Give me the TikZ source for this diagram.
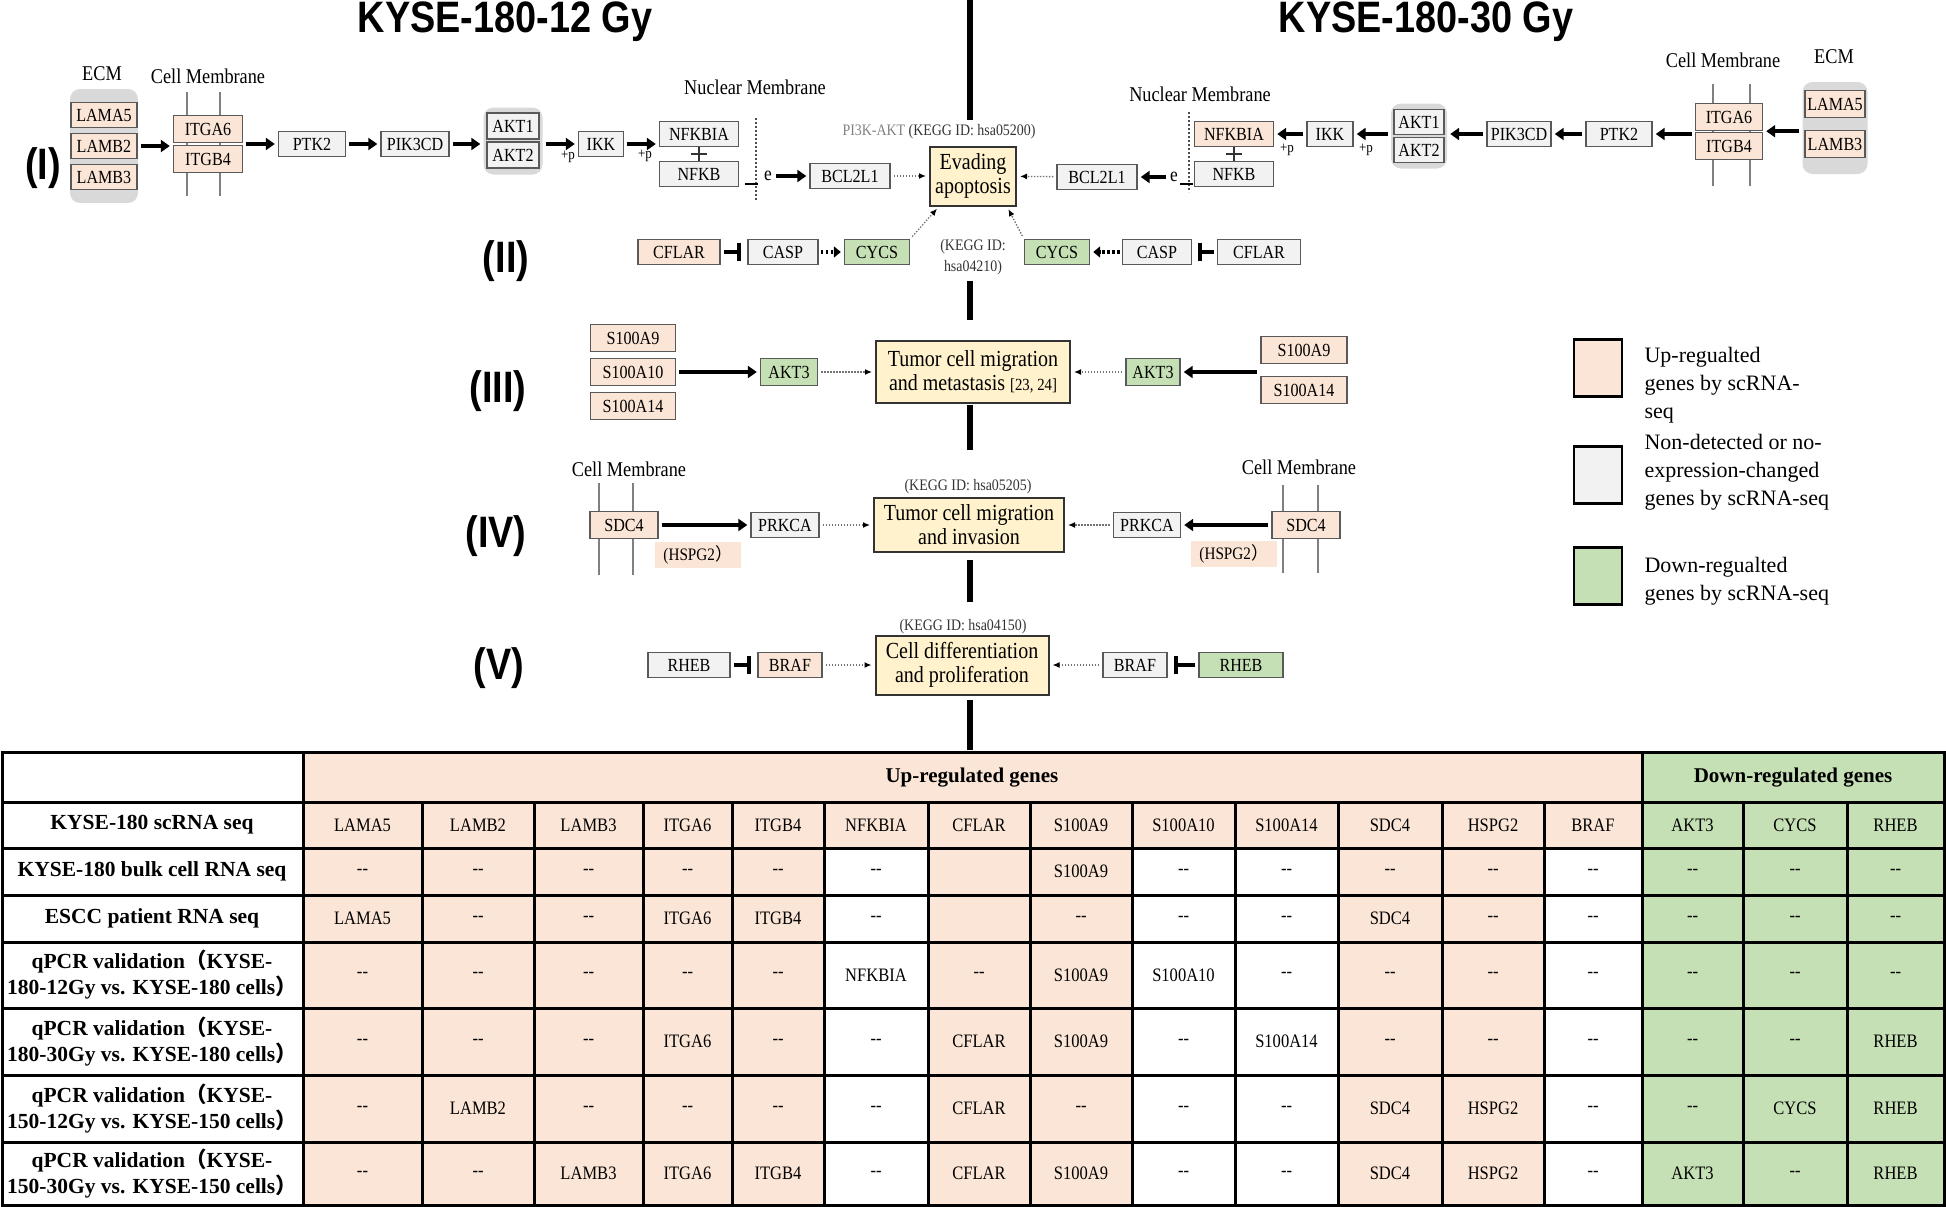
\documentclass[tikz,border=0pt]{standalone}
\usepackage{fontspec}
\setmainfont{Liberation Serif}
\newfontfamily\genefont[FakeStretch=0.87]{Liberation Serif}
\newfontfamily\headfont[FakeStretch=0.86]{Liberation Sans}
\newfontfamily\cjk{Noto Sans CJK SC}
\usetikzlibrary{arrows.meta}
\definecolor{upcol}{HTML}{FBE5D6}
\definecolor{nocol}{HTML}{F2F2F2}
\definecolor{downcol}{HTML}{C5E0B4}
\definecolor{outcol}{HTML}{FFF2CC}
\definecolor{grpcol}{HTML}{D9D9D9}
\definecolor{boxline}{HTML}{595959}
\newcommand{\nd}{-{}-}
\tikzset{
    gene/.style = {rectangle, draw=boxline, line width=1.4pt, minimum height=25pt, inner sep=1pt, font=\genefont\fontsize{18.5}{20}\selectfont},
    upg/.style = {gene, fill=upcol},
    nog/.style = {gene, fill=nocol},
    downg/.style = {gene, fill=downcol},
    outbox/.style = {rectangle, draw=black!80, line width=2pt, fill=outcol, align=center, font=\genefont\fontsize{23}{24}\selectfont},
    grpbg/.style = {rectangle, rounded corners=10pt, fill=grpcol},
    hspg/.style = {rectangle, fill=upcol, minimum width=86pt, minimum height=26pt, font=\genefont\fontsize{17.5}{19}\selectfont},
    memb/.style = {draw=black!50, line width=2.5pt},
    nucm/.style = {draw=black!70, line width=1.2pt, dash pattern=on 2pt off 2pt},
    loclbl/.style = {font=\genefont\fontsize{21}{23}\selectfont},
    kegg/.style = {align=center, text=black!80, font=\genefont\fontsize{16}{21}\selectfont},
    plbl/.style = {font=\genefont\fontsize{15}{16}\selectfont, inner sep=0pt},
    elbl/.style = {font=\genefont\fontsize{20}{20}\selectfont, inner sep=1pt},
    roman/.style = {font=\headfont\bfseries\fontsize{44}{46}\selectfont},
    ttl/.style = {font=\headfont\bfseries\fontsize{44}{46}\selectfont},
    legtext/.style = {align=left, anchor=west, font=\fontsize{22}{28}\selectfont},
    legbox/.style = {rectangle, draw=black, line width=2.5pt, minimum width=48pt, minimum height=57pt},
    spine/.style = {line width=6pt},
    edgek/.style = {-{Triangle[length=9pt,width=12pt]}, line width=4pt, shorten <=3pt, shorten >=3pt}, % activation
    edgeki/.style = {-{Bar[width=18pt,line width=4pt]}, line width=4pt, shorten <=3pt, shorten >=6pt}, % inhibition
    edgekd/.style = {-{Triangle[length=7pt,width=11pt]}, line width=4pt, dash pattern=on 2.5pt off 2.5pt, shorten <=2pt, shorten >=3pt}, % indirect
    edgeg/.style = {-{Latex[length=7pt,width=6pt,color=black]}, draw=black!55, line width=1.3pt, dash pattern=on 1.5pt off 1.5pt, shorten <=3pt, shorten >=3pt}, % to outcome
    cellt/.style = {font=\genefont\fontsize{19}{21}\selectfont},
    rowt/.style = {align=center, font=\bfseries\fontsize{21.5}{26}\selectfont},
    headt/.style = {font=\bfseries\fontsize{21}{24}\selectfont},
    tgrid/.style = {line width=3pt, line cap=rect},
}

\begin{document}
\begin{tikzpicture}[x=1pt,y=-1pt]
\useasboundingbox (0,0) rectangle (1946,1207);
\foreach \ya/\yb in {0/120,281/320,405/450,560/602,700/750}
    \draw[spine] (970,\ya) -- (970,\yb);
%
\node[ttl, anchor=base] (ttla) at (505,33) {KYSE-180-12 Gy};
\node[ttl, anchor=base] (ttlb) at (1426,33) {KYSE-180-30 Gy};
\node[roman] (r1) at (43,168) {(I)};
\node[roman] (r2) at (506,261) {(II)};
\node[roman] (r3) at (498,391) {(III)};
\node[roman] (r4) at (496,536) {(IV)};
\node[roman] (r5) at (499,668) {(V)};
%
% (I) left
\node[loclbl] (aecml) at (102,74) {ECM};
\node[loclbl] (acml) at (208,76) {Cell Membrane};
\node[grpbg, minimum width=68pt, minimum height=114pt] (aecm) at (104,146) {};
\node[upg, minimum width=66pt] (alama5) at (104,115) {LAMA5};
\node[upg, minimum width=66pt] (alamb2) at (104,146) {LAMB2};
\node[upg, minimum width=66pt] (alamb3) at (104,177) {LAMB3};
\draw[memb] (187,92) -- (187,196);
\draw[memb] (220,92) -- (220,196);
\node[upg, minimum width=69pt, minimum height=27pt] (aitga6) at (208,129) {ITGA6};
\node[upg, minimum width=69pt, minimum height=27pt] (aitgb4) at (208,159) {ITGB4};
\node[nog, minimum width=67pt] (aptk2) at (312,144) {PTK2};
\node[nog, minimum width=68pt] (apik3cd) at (415,144) {PIK3CD};
\node[grpbg, minimum width=59pt, minimum height=67pt] (aaktg) at (513,141) {};
\node[nog, minimum width=52pt, minimum height=26pt] (aakt1) at (513,126) {AKT1};
\node[nog, minimum width=52pt, minimum height=26pt] (aakt2) at (513,155) {AKT2};
\node[nog, minimum width=45pt] (aikk) at (601,144) {IKK};
\node[nog, minimum width=79pt] (anfkbia) at (699,134) {NFKBIA};
\node[nog, minimum width=79pt] (anfkb) at (699,174) {NFKB};
\node[plbl] (ap1) at (568,157) {+p};
\node[plbl] (ap2) at (645,156) {+p};
\draw[edgek] (aecm.east) -- (aecm.east -| aitga6.west);
\draw[edgek] (aitga6.east |- aptk2) -- (aptk2.west);
\draw[edgek] (aptk2) edge (apik3cd);
\draw[edgek] (apik3cd.east) -- (apik3cd.east -| aaktg.west);
\draw[edgek] (aaktg.east |- aikk) -- (aikk.west);
\draw[edgek] (aikk.east) -- (aikk.east -| anfkbia.west);
\draw[line width=1.4pt, draw=black!80] (anfkbia.south) -- coordinate[midway] (acx) (anfkb.north);
\draw[line width=1.4pt, draw=black!80] ([xshift=-8pt]acx) -- ([xshift=8pt]acx);
\draw[nucm] (756,118) -- (756,201);
\node[loclbl] (anml) at (755,87) {Nuclear Membrane};
\draw[line width=2pt] ([xshift=6pt,yshift=3pt]anfkb.south east) -- ++(13,0);
\node[elbl] (ae) at (768,176) {e};
\node[nog, minimum width=80pt] (abcl) at (850,176) {BCL2L1};
\draw[edgek] (ae) -- (abcl);
\node[outbox, minimum width=86pt, minimum height=59pt] (evade) at (973,176) {Evading\\apoptosis};
\draw[edgeg] (abcl) -- (evade);
\node[kegg] (pi3k) at (939,132) {{\color{black!50}PI3K-AKT} (KEGG ID: hsa05200)};
%
% (I) right
\node[nog, minimum width=80pt] (bbcl) at (1097,177) {BCL2L1};
\draw[edgeg] (bbcl) -- (evade);
\node[elbl] (be) at (1174,177) {e};
\draw[edgek] (be) -- (bbcl);
\draw[nucm] (1189,112) -- (1189,192);
\node[loclbl] (bnml) at (1200,94) {Nuclear Membrane};
\node[upg, minimum width=79pt] (bnfkbia) at (1234,134) {NFKBIA};
\node[nog, minimum width=79pt] (bnfkb) at (1234,174) {NFKB};
\draw[line width=1.4pt, draw=black!80] (bnfkbia.south) -- coordinate[midway] (bcx) (bnfkb.north);
\draw[line width=1.4pt, draw=black!80] ([xshift=-8pt]bcx) -- ([xshift=8pt]bcx);
\draw[line width=2pt] ([xshift=-1pt,yshift=3pt]bnfkb.south west) -- ++(-13,0);
\node[nog, minimum width=46pt] (bikk) at (1330,134) {IKK};
\draw[edgek] (bikk) -- (bnfkbia);
\node[plbl] (bp1) at (1287,150) {+p};
\node[grpbg, minimum width=56pt, minimum height=65pt] (baktg) at (1419,136) {};
\node[nog, minimum width=50pt] (bakt1) at (1419,122) {AKT1};
\node[nog, minimum width=50pt] (bakt2) at (1419,150) {AKT2};
\draw[edgek] (baktg.west |- bikk) -- (bikk.east);
\node[plbl] (bp2) at (1366,150) {+p};
\node[nog, minimum width=64pt] (bpik3cd) at (1519,134) {PIK3CD};
\draw[edgek] (bpik3cd.west) -- (bpik3cd.west -| baktg.east);
\node[nog, minimum width=66pt] (bptk2) at (1619,134) {PTK2};
\draw[edgek] (bptk2) -- (bpik3cd);
\draw[memb] (1713,84) -- (1713,186);
\draw[memb] (1750,84) -- (1750,186);
\node[upg, minimum width=67pt, minimum height=27pt] (bitga6) at (1729,117) {ITGA6};
\node[upg, minimum width=67pt, minimum height=27pt] (bitgb4) at (1729,146) {ITGB4};
\draw[edgek] (bitga6.west |- bptk2) -- (bptk2.east);
\node[loclbl] (bcml) at (1723,60) {Cell Membrane};
\node[loclbl] (becml) at (1834,57) {ECM};
\node[grpbg, minimum width=65pt, minimum height=92pt] (becm) at (1835,128) {};
\node[upg, minimum width=60pt, minimum height=27pt] (blama5) at (1835,104) {LAMA5};
\node[upg, minimum width=60pt, minimum height=27pt] (blamb3) at (1835,144) {LAMB3};
\draw[edgek] (becm.west |- bitga6.south) -- (bitga6.south east);
%
% (II)
\node[upg, minimum width=82pt] (acflar) at (679,252) {CFLAR};
\node[nog, minimum width=70pt] (acasp) at (783,252) {CASP};
\node[downg, minimum width=65pt] (acycs) at (877,252) {CYCS};
\draw[edgeki] (acflar) -- (acasp);
\draw[edgekd] (acasp) -- (acycs);
\draw[edgeg] (acycs.north east) -- ([xshift=10pt]evade.south west);
\node[kegg] (kegg2) at (973,257) {(KEGG ID:\\hsa04210)};
\node[downg, minimum width=65pt] (bcycs) at (1057,252) {CYCS};
\node[nog, minimum width=69pt] (bcasp) at (1157,252) {CASP};
\node[nog, minimum width=83pt] (bcflar) at (1259,252) {CFLAR};
\draw[edgeg] (bcycs.north west) -- ([xshift=-10pt]evade.south east);
\draw[edgekd] (bcasp) -- (bcycs);
\draw[edgeki] (bcflar) -- (bcasp);
%
% (III)
\node[upg, minimum width=85pt, minimum height=27pt] (as100a9) at (633,338) {S100A9};
\node[upg, minimum width=85pt, minimum height=27pt] (as100a10) at (633,372) {S100A10};
\node[upg, minimum width=85pt, minimum height=27pt] (as100a14) at (633,406) {S100A14};
\node[downg, minimum width=57pt, minimum height=27pt] (aakt3) at (789,372) {AKT3};
\draw[edgek] (as100a10) -- (aakt3);
\node[outbox, minimum width=194pt, minimum height=62pt] (tumora) at (973,372) {Tumor cell migration\\and metastasis {\fontsize{17}{17}\selectfont[23, 24]}};
\draw[edgeg] (aakt3) -- (tumora);
\node[downg, minimum width=54pt, minimum height=27pt] (bakt3) at (1153,372) {AKT3};
\draw[edgeg] (bakt3) -- (tumora);
\node[upg, minimum width=86pt, minimum height=27pt] (bs100a9) at (1304,350) {S100A9};
\node[upg, minimum width=86pt, minimum height=27pt] (bs100a14) at (1304,390) {S100A14};
\draw[edgek] (bs100a9.west |- bakt3) -- (bakt3.east);
%
% (IV)
\node[loclbl] (acml2) at (629,469) {Cell Membrane};
\draw[memb] (599,483) -- (599,575);
\draw[memb] (633,483) -- (633,575);
\node[upg, minimum width=68pt, minimum height=27pt] (asdc4) at (624,525) {SDC4};
\node[hspg] (ahspg) at (698,555) {(HSPG2{\cjk ）}};
\node[nog, minimum width=68pt] (aprkca) at (785,525) {PRKCA};
\draw[edgek] (asdc4) -- (aprkca);
\node[kegg] (kegg3) at (968,487) {(KEGG ID: hsa05205)};
\node[outbox, minimum width=190pt, minimum height=54pt] (tumorb) at (969,525) {Tumor cell migration\\and invasion};
\draw[edgeg] (aprkca) -- (tumorb);
\node[nog, minimum width=67pt] (bprkca) at (1147,525) {PRKCA};
\draw[edgeg] (bprkca) -- (tumorb);
\draw[memb] (1283,485) -- (1283,573);
\draw[memb] (1318,485) -- (1318,573);
\node[loclbl] (bcml2) at (1299,467) {Cell Membrane};
\node[upg, minimum width=68pt, minimum height=27pt] (bsdc4) at (1306,525) {SDC4};
\node[hspg] (bhspg) at (1234,554) {(HSPG2{\cjk ）}};
\draw[edgek] (bsdc4) -- (bprkca);
%
% (V)
\node[kegg] (kegg4) at (963,627) {(KEGG ID: hsa04150)};
\node[outbox, minimum width=173pt, minimum height=59pt] (diffbox) at (962,665) {Cell differentiation\\and proliferation};
\node[nog, minimum width=82pt] (arheb) at (689,665) {RHEB};
\node[upg, minimum width=64pt] (abraf) at (790,665) {BRAF};
\draw[edgeki] (arheb) -- (abraf);
\draw[edgeg] (abraf) -- (diffbox);
\node[nog, minimum width=64pt] (bbraf) at (1135,665) {BRAF};
\node[downg, minimum width=84pt] (brheb) at (1241,665) {RHEB};
\draw[edgeg] (bbraf) -- (diffbox);
\draw[edgeki] (brheb) -- (bbraf);
%
% legend
\node[legbox, fill=upcol] (lup) at (1598,368) {};
\node[legtext] (tup) at (1641,385) {Up-regualted\\genes by scRNA-\\seq};
\node[legbox, fill=nocol] (lno) at (1598,475) {};
\node[legtext] (tno) at (1641,472) {Non-detected or no-\\expression-changed\\genes by scRNA-seq};
\node[legbox, fill=downcol] (ldown) at (1598,576) {};
\node[legtext] (tdown) at (1641,581) {Down-regualted\\genes by scRNA-seq};
%
% table
\fill[upcol] (303,752) rectangle (1642,1205);
\fill[downcol] (1642,752) rectangle (1944,1205);
\foreach \xa/\xb in {824/928,1132/1338,1544/1642}
    \fill[white] (\xa,848) rectangle (\xb,1205);
\foreach \yy in {752,802,848,895,942,1008,1075,1142,1205}
    \draw[tgrid] (2,\yy) -- (1944,\yy);
\foreach \xx in {2,303,1642,1944}
    \draw[tgrid] (\xx,752) -- (\xx,1205);
\foreach \xx in {422,534,643,732,824,928,1030,1132,1235,1338,1442,1544,1743,1847}
    \draw[tgrid] (\xx,802) -- (\xx,1205);
\node[headt] (hup) at (972,778) {Up-regulated genes};
\node[headt] (hdown) at (1793,778) {Down-regulated genes};
\node[rowt] (l1) at (152,825) {KYSE-180 scRNA seq};
\node[rowt] (l2) at (152,871.5) {KYSE-180 bulk cell RNA seq};
\node[rowt] (l3) at (152,918.5) {ESCC patient RNA seq};
\node[rowt] (l4) at (152,975) {qPCR validation{\cjk （}KYSE-\\180-12Gy vs. KYSE-180 cells{\cjk ）}};
\node[rowt] (l5) at (152,1041.5) {qPCR validation{\cjk （}KYSE-\\180-30Gy vs. KYSE-180 cells{\cjk ）}};
\node[rowt] (l6) at (152,1108.5) {qPCR validation{\cjk （}KYSE-\\150-12Gy vs. KYSE-150 cells{\cjk ）}};
\node[rowt] (l7) at (152,1173.5) {qPCR validation{\cjk （}KYSE-\\150-30Gy vs. KYSE-150 cells{\cjk ）}};
\def\colx{{362.5,478,588.5,687.5,778,876,979,1081,1183.5,1286.5,1390,1493,1593,1692.5,1795,1895.5}}
\foreach \rowy/\genes [count=\rr] in {
    825/{LAMA5,LAMB2,LAMB3,ITGA6,ITGB4,NFKBIA,CFLAR,S100A9,S100A10,S100A14,SDC4,HSPG2,BRAF,AKT3,CYCS,RHEB},
    871.5/{\nd,\nd,\nd,\nd,\nd,\nd,{},S100A9,\nd,\nd,\nd,\nd,\nd,\nd,\nd,\nd},
    918.5/{LAMA5,\nd,\nd,ITGA6,ITGB4,\nd,{},\nd,\nd,\nd,SDC4,\nd,\nd,\nd,\nd,\nd},
    975/{\nd,\nd,\nd,\nd,\nd,NFKBIA,\nd,S100A9,S100A10,\nd,\nd,\nd,\nd,\nd,\nd,\nd},
    1041.5/{\nd,\nd,\nd,ITGA6,\nd,\nd,CFLAR,S100A9,\nd,S100A14,\nd,\nd,\nd,\nd,\nd,RHEB},
    1108.5/{\nd,LAMB2,\nd,\nd,\nd,\nd,CFLAR,\nd,\nd,\nd,SDC4,HSPG2,\nd,\nd,CYCS,RHEB},
    1173.5/{\nd,\nd,LAMB3,ITGA6,ITGB4,\nd,CFLAR,S100A9,\nd,\nd,SDC4,HSPG2,\nd,AKT3,\nd,RHEB}}
  \foreach \g [count=\i from 0] in \genes {
    \pgfmathsetmacro\cx{\colx[\i]}
    \node[cellt] (c\rr-\i) at (\cx,\rowy) {\g};
  }
\end{tikzpicture}
\end{document}
